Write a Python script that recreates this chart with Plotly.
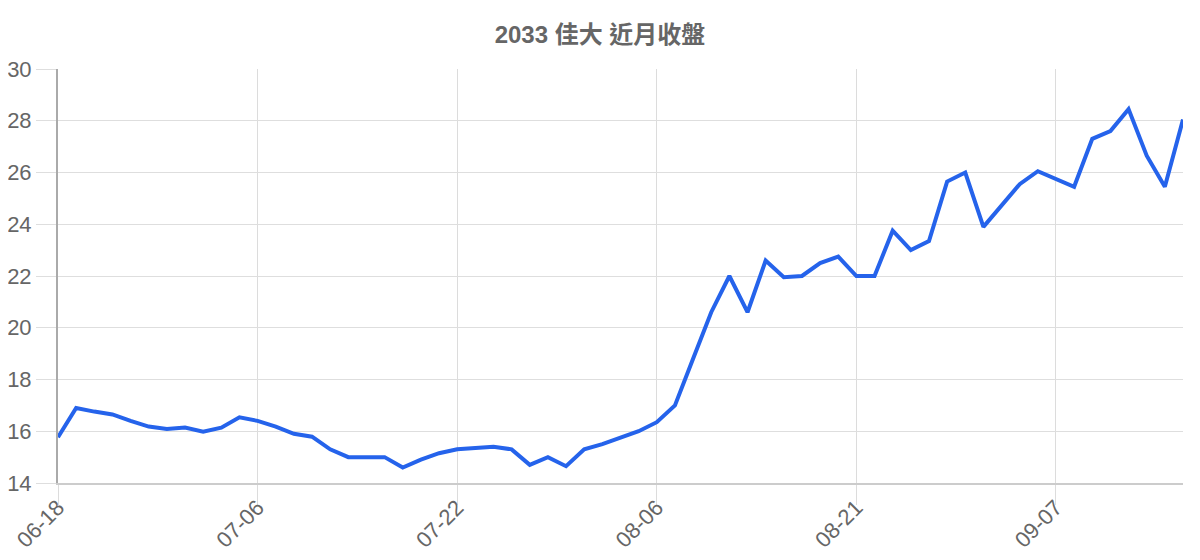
import plotly.graph_objects as go

# 2033 佳大 daily close, last ~3 months
dates = [
    "06-18", "06-19", "06-20", "06-23", "06-24", "06-25", "06-26", "06-27", "06-30", "07-01", "07-03",
    "07-06", "07-07", "07-08", "07-09", "07-10", "07-11", "07-14", "07-15", "07-16", "07-17", "07-18",
    "07-22", "07-23", "07-24", "07-25", "07-28", "07-29", "07-30", "07-31", "08-01", "08-04", "08-05",
    "08-06", "08-07", "08-08", "08-11", "08-12", "08-13", "08-14", "08-15", "08-18", "08-19", "08-20",
    "08-21", "08-22", "08-25", "08-26", "08-27", "08-28", "08-29", "09-01", "09-02", "09-03", "09-04",
    "09-07", "09-08", "09-09", "09-10", "09-11", "09-12", "09-15", "09-16",
]
close = [
    15.77, 16.9, 16.76, 16.65, 16.4, 16.18, 16.09, 16.14, 15.98, 16.14, 16.54,
    16.4, 16.18, 15.9, 15.79, 15.3, 15.0, 15.0, 15.0, 14.6, 14.9, 15.15,
    15.3, 15.35, 15.4, 15.3, 14.7, 15.0, 14.65, 15.3, 15.5, 15.75, 16.0,
    16.35, 17.0, 18.8, 20.6, 22.0, 20.6, 22.6, 21.95, 22.0, 22.5, 22.75,
    22.0, 22.0, 23.75, 23.0, 23.35, 25.65, 26.0, 23.9, 24.7, 25.55, 26.05,
    25.75, 25.45, 27.3, 27.6, 28.45, 26.65, 25.45, 28.05,
]
shown_ticks = ["06-18", "07-06", "07-22", "08-06", "08-21", "09-07"]

fig = go.Figure()
fig.add_trace(go.Scatter(
    x=dates, y=close, mode="lines",
    line=dict(color="#2563eb", width=4),
    hoverinfo="x+y",
))

# page body has an 8px margin, so the figure is a bit smaller than the window
fig.update_layout(
    width=1184, height=552,
    margin=dict(l=50, r=9, t=61, b=77),
    paper_bgcolor="white", plot_bgcolor="white",
    font=dict(family="Liberation Sans, Arial, Noto Sans CJK TC", color="#666666"),
    title=dict(
        text="<b>2033 佳大 近月收盤</b>",
        x=0.5, xanchor="center", y=1 - 27 / 552, yanchor="middle",
        font=dict(size=24, color="#666666", family="Liberation Sans, Noto Sans CJK TC"),
    ),
    showlegend=False,
)
fig.update_xaxes(
    type="category", automargin=False,
    tickmode="array", tickvals=shown_ticks, ticktext=shown_ticks,
    tickangle=-45, tickfont=dict(size=22, color="#666666"),
    ticklabelstandoff=-19,
    showgrid=True, gridcolor="#dcdcdc", gridwidth=1,
    ticks="outside", ticklen=20, tickcolor="#dcdcdc",
    showline=True, linecolor="#cccccc", linewidth=2,
    range=[0, len(dates) - 1],
)
fig.update_yaxes(
    range=[14, 30], dtick=2, automargin=False,
    tickfont=dict(size=22, color="#666666"),
    showgrid=True, gridcolor="#dedede", gridwidth=1,
    ticks="outside", ticklen=20, tickcolor="#dedede",
    showline=True, linecolor="#aaaaaa", linewidth=2,
    zeroline=False,
)

fig.write_html("out.html")
